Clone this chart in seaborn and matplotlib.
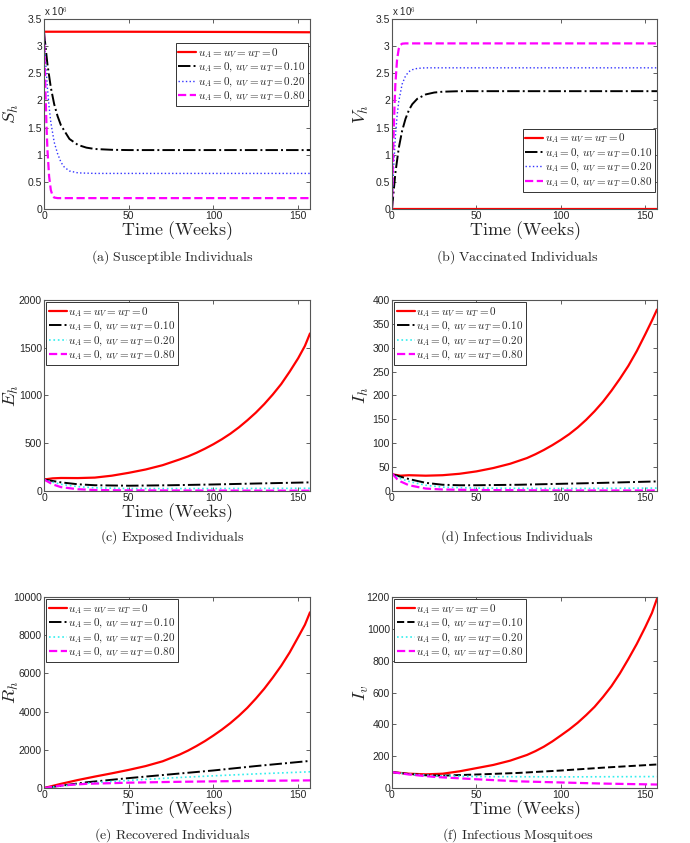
import numpy as np
import pandas as pd
import matplotlib
matplotlib.use("Agg")
import matplotlib.pyplot as plt
import seaborn as sns

# ---- data (time in weeks) ----
labels = [r'$u_A = u_V = u_T = 0$',
          r'$u_A = 0,\, u_V = u_T = 0.10$',
          r'$u_A = 0,\, u_V = u_T = 0.20$',
          r'$u_A = 0,\, u_V = u_T = 0.80$']

# (a) susceptible, in millions
sh_t_none = [0, 40, 80, 120, 157]
sh_none = [3.265, 3.265, 3.263, 3.26, 3.255]
sh_t_010 = [0, 2, 4, 6, 8, 10, 15, 20, 25, 30, 40, 50, 100, 157]
sh_010 = [3.25, 2.67, 2.24, 1.93, 1.71, 1.54, 1.29, 1.18, 1.13, 1.105, 1.09, 1.085, 1.085, 1.085]
sh_t_020 = [0, 1, 2, 3, 4, 6, 8, 10, 12, 15, 20, 30, 157]
sh_020 = [3.25, 2.68, 2.23, 1.88, 1.60, 1.23, 1.02, 0.86, 0.77, 0.70, 0.665, 0.655, 0.655]
sh_t_080 = [0, 0.5, 1, 1.5, 2, 3, 4, 5, 6, 8, 157]
sh_080 = [3.25, 2.6, 2.0, 1.5, 1.1, 0.6, 0.35, 0.25, 0.21, 0.2, 0.2]

# (b) vaccinated, in millions
vh_t_none = [0, 157]
vh_none = [0.0, 0.0]
vh_t_010 = [0, 2, 4, 6, 8, 10, 12, 15, 20, 25, 30, 40, 157]
vh_010 = [0.0, 0.66, 1.12, 1.44, 1.66, 1.82, 1.93, 2.03, 2.11, 2.145, 2.16, 2.17, 2.17]
vh_t_020 = [0, 1, 2, 3, 4, 6, 8, 10, 12, 15, 20, 157]
vh_020 = [0.0, 0.78, 1.33, 1.71, 1.98, 2.3, 2.45, 2.53, 2.565, 2.59, 2.6, 2.6]
vh_t_080 = [0, 0.5, 1, 1.5, 2, 3, 4, 5, 6, 8, 157]
vh_080 = [0.0, 0.8, 1.4, 1.9, 2.3, 2.75, 2.95, 3.02, 3.045, 3.05, 3.05]

# (c) exposed
eh_t_none = [0, 5, 10, 20, 30, 40, 50, 60, 70, 80, 85, 90, 95, 100, 105, 110, 115, 120,
             125, 130, 135, 140, 145, 150, 154, 157]
eh_none = [120, 132, 136, 135, 140, 160, 190, 225, 270, 330, 362, 400, 443, 490, 542, 600,
           666, 740, 820, 910, 1010, 1120, 1250, 1390, 1520, 1650]
eh_t_010 = [0, 5, 10, 20, 30, 50, 75, 100, 125, 157]
eh_010 = [120, 105, 90, 70, 60, 55, 60, 68, 78, 90]
eh_t_020 = [0, 5, 10, 20, 30, 50, 100, 157]
eh_020 = [120, 92, 70, 45, 33, 25, 25, 28]
eh_t_080 = [0, 3, 5, 10, 20, 30, 50, 100, 157]
eh_080 = [120, 90, 70, 40, 18, 10, 6, 4, 3]

# (d) infectious humans
ih_t_none = [0, 5, 10, 20, 30, 40, 50, 60, 70, 80, 85, 90, 95, 100, 105, 110, 115, 120,
             125, 130, 135, 140, 145, 150, 154, 157]
ih_none = [35, 32, 33, 32, 33, 36, 41, 48, 57, 69, 77, 86, 96, 107, 119, 133, 149, 167,
           187, 210, 235, 262, 293, 328, 357, 380]
ih_t_010 = [0, 5, 10, 20, 30, 40, 50, 75, 100, 125, 157]
ih_010 = [35, 30, 25, 17, 13, 12, 12, 13, 15, 17, 20]
ih_t_020 = [0, 5, 10, 20, 30, 50, 100, 157]
ih_020 = [35, 26, 20, 12, 8, 6, 5, 6]
ih_t_080 = [0, 3, 5, 10, 20, 30, 50, 100, 157]
ih_080 = [37, 25, 20, 12, 5, 3, 2, 1, 1]

# (e) recovered
rh_t_none = [0, 10, 20, 30, 40, 50, 60, 70, 80, 85, 90, 95, 100, 105, 110, 115, 120,
             125, 130, 135, 140, 145, 150, 154, 157]
rh_none = [0, 220, 420, 600, 770, 950, 1150, 1400, 1750, 1960, 2200, 2460, 2750, 3060,
           3400, 3780, 4200, 4680, 5200, 5780, 6400, 7100, 7900, 8550, 9200]
rh_t_010 = [0, 25, 50, 75, 100, 125, 157]
rh_010 = [0, 300, 520, 720, 920, 1150, 1420]
rh_t_020 = [0, 25, 50, 75, 100, 125, 157]
rh_020 = [0, 250, 400, 530, 640, 740, 850]
rh_t_080 = [0, 10, 25, 50, 75, 100, 125, 157]
rh_080 = [0, 130, 220, 280, 320, 350, 375, 400]

# (f) infectious mosquitoes
iv_t_none = [0, 10, 20, 30, 40, 50, 60, 70, 80, 85, 90, 95, 100, 105, 110, 115, 120,
             125, 130, 135, 140, 145, 150, 154, 157]
iv_none = [100, 90, 86, 90, 105, 125, 145, 172, 208, 232, 260, 293, 330, 368, 410, 458,
           510, 572, 640, 720, 810, 905, 1010, 1100, 1190]
iv_t_010 = [0, 10, 20, 30, 50, 75, 100, 125, 157]
iv_010 = [100, 88, 80, 78, 85, 95, 110, 128, 148]
iv_t_020 = [0, 10, 25, 50, 100, 157]
iv_020 = [100, 88, 78, 72, 70, 72]
iv_t_080 = [0, 10, 25, 50, 75, 100, 125, 157]
iv_080 = [100, 85, 70, 55, 42, 35, 28, 22]

sns.set_style("ticks")
plt.rcParams['font.family'] = ['Liberation Sans', 'DejaVu Sans']
plt.rcParams['mathtext.fontset'] = 'cm'

fig = plt.figure(figsize=(6.9, 8.43), dpi=100)

lefts = [0.0638, 0.5681]
width = [0.3855, 0.3841]
bottoms = [0.7521, 0.4176, 0.0652]
heights = [0.2254, 0.2265, 0.2266]
ylab_x = [-0.088, -0.08]


def make_axes(row, col):
    ax = fig.add_axes([lefts[col], bottoms[row], width[col], heights[row]])
    ax._col = col
    return ax


def draw_panel(ax, series, styles, ylim, yticks, ylab, legend_loc, legend_anchor,
               xlab=True, yfmt=None):
    for (t, v), lab, (c, ls, lw) in zip(series, labels, styles):
        sns.lineplot(x=t, y=v, ax=ax, color=c, linestyle=ls, linewidth=lw, label=lab)
    ax.set_xlim(0, 157)
    ax.set_ylim(*ylim)
    ax.set_xticks([0, 50, 100, 150])
    ax.set_yticks(yticks)
    if yfmt is not None:
        ax.set_yticklabels([yfmt(y) for y in yticks])
    ax.tick_params(direction='in', top=True, right=True, length=3, width=0.6,
                   labelsize=7.5, pad=1.5, color='#444444')
    for sp in ax.spines.values():
        sp.set_color('#555555')
        sp.set_linewidth(0.8)
    if xlab:
        ax.set_xlabel(r'$\mathrm{Time\ (Weeks)}$', fontsize=13, labelpad=-1)
    else:
        ax.set_xlabel('')
    ax.set_ylabel(ylab, fontsize=13.5)
    ax.yaxis.set_label_coords(ylab_x[ax._col], 0.5)
    leg = ax.legend(loc=legend_loc, bbox_to_anchor=legend_anchor, fontsize=8,
                    frameon=True, fancybox=False, framealpha=1, edgecolor='#333333',
                    handlelength=1.6, handletextpad=0.15, labelspacing=0.1,
                    borderpad=0.25, borderaxespad=0.2)
    leg.get_frame().set_linewidth(0.7)


blue_style = [('#ff0000', '-', 1.6), ('black', '-.', 1.4), ('#3333ff', ':', 1.0), ('#ff00ff', '--', 1.6)]
cyan_style = [('#ff0000', '-', 1.6), ('black', '-.', 1.4), ('#33eeee', ':', 1.2), ('#ff00ff', '--', 1.6)]
cyan_style_f = [('#ff0000', '-', 1.6), ('black', '--', 1.4), ('#33eeee', ':', 1.2), ('#ff00ff', '--', 1.6)]

mill = lambda y: ('%g' % y)

ax = make_axes(0, 0)
draw_panel(ax, [(sh_t_none, sh_none), (sh_t_010, sh_010), (sh_t_020, sh_020), (sh_t_080, sh_080)],
           blue_style, (0, 3.5), np.arange(0, 3.51, 0.5), r'$S_h$', 'upper right', (1.0, 0.885),
           yfmt=mill)
ax.text(0.0, 1.0, r'x 10$^6$', transform=ax.transAxes, fontsize=7, va='bottom', ha='left')

ax = make_axes(0, 1)
draw_panel(ax, [(vh_t_none, vh_none), (vh_t_010, vh_010), (vh_t_020, vh_020), (vh_t_080, vh_080)],
           blue_style, (0, 3.5), np.arange(0, 3.51, 0.5), r'$V_h$', 'lower right', (1.0, 0.08),
           yfmt=mill)
ax.text(0.0, 1.0, r'x 10$^6$', transform=ax.transAxes, fontsize=7, va='bottom', ha='left')

ax = make_axes(1, 0)
draw_panel(ax, [(eh_t_none, eh_none), (eh_t_010, eh_010), (eh_t_020, eh_020), (eh_t_080, eh_080)],
           cyan_style, (0, 2000), np.arange(0, 2001, 500), r'$E_h$', 'upper left', (0.0, 1.0))

ax = make_axes(1, 1)
draw_panel(ax, [(ih_t_none, ih_none), (ih_t_010, ih_010), (ih_t_020, ih_020), (ih_t_080, ih_080)],
           cyan_style, (0, 400), np.arange(0, 401, 50), r'$I_h$', 'upper left', (0.0, 1.0),
           xlab=False)

ax = make_axes(2, 0)
draw_panel(ax, [(rh_t_none, rh_none), (rh_t_010, rh_010), (rh_t_020, rh_020), (rh_t_080, rh_080)],
           cyan_style, (0, 10000), np.arange(0, 10001, 2000), r'$R_h$', 'upper left', (0.0, 1.0))

ax = make_axes(2, 1)
draw_panel(ax, [(iv_t_none, iv_none), (iv_t_010, iv_010), (iv_t_020, iv_020), (iv_t_080, iv_080)],
           cyan_style_f, (0, 1200), np.arange(0, 1201, 200), r'$I_v$', 'upper left', (0.0, 1.0))

captions = [r'$\mathrm{(a)\ Susceptible\ Individuals}$', r'$\mathrm{(b)\ Vaccinated\ Individuals}$',
            r'$\mathrm{(c)\ Exposed\ Individuals}$', r'$\mathrm{(d)\ Infectious\ Individuals}$',
            r'$\mathrm{(e)\ Recovered\ Individuals}$', r'$\mathrm{(f)\ Infectious\ Mosquitoes}$']
cap_y = [0.6951, 0.363, 0.0095]
for i, cap in enumerate(captions):
    fig.text([0.25, 0.75][i % 2], cap_y[i // 2], cap, fontsize=10, ha='center', va='center')

fig.savefig('out.png', dpi=100)
